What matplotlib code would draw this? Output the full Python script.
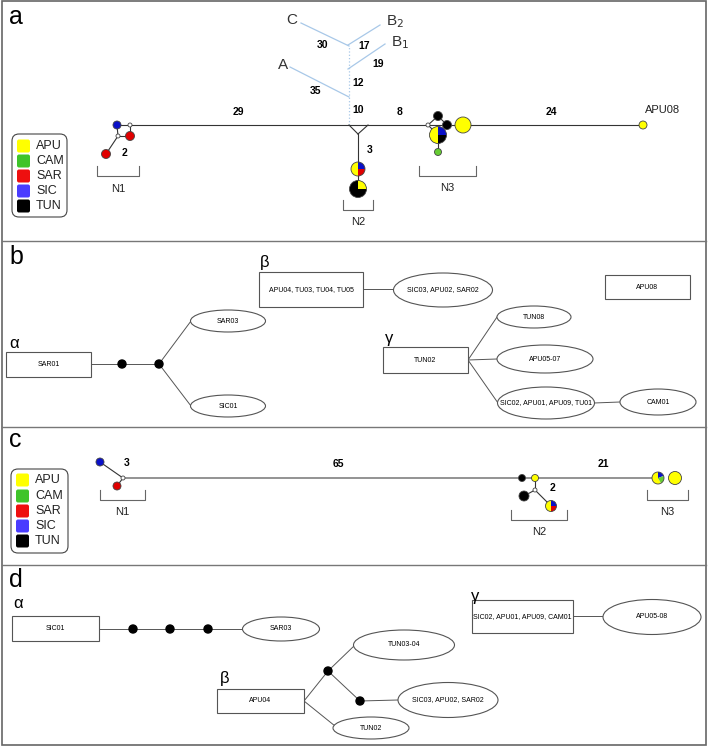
import matplotlib
matplotlib.use("Agg")
import matplotlib.pyplot as plt
from matplotlib.patches import Circle, Wedge, Ellipse, Rectangle, FancyBboxPatch

plt.rcParams['font.family'] = ['Liberation Sans', 'DejaVu Sans']

# Farben der Populationen
pop_names = ["APU", "CAM", "SAR", "SIC", "TUN"]
pop_colors = ["#ffff00", "#3fc42a", "#ee0f0f", "#4a3cff", "#000000"]
node_col = {"Y": "#ffff00", "G": "#66cc33", "R": "#e00000", "B": "#0a10c8", "K": "#000000", "W": "#ffffff"}

# ---------------- Panel a: Netzwerk ----------------
# Knoten: x, y, Radius, Farbe
a_nodes_x = [117, 130, 118, 130, 106, 438, 447, 463, 438, 643]
a_nodes_y = [125, 125, 136, 136, 154, 116, 125, 125, 152, 125]
a_nodes_r = [4, 2, 2, 4.5, 4.5, 4.5, 4.5, 8, 3.5, 4]
a_nodes_c = ["B", "W", "W", "R", "R", "K", "K", "Y", "G", "Y"]
# Kuchendiagramme: Mittelpunkt, Radius, Anteile (Winkel in Grad), Farben
a_pies = [
    (358, 169, 7, [(90, 270, "Y"), (0, 90, "B"), (270, 360, "R")]),
    (358, 189, 8.5, [(90, 360, "K"), (0, 90, "Y")]),
    (438, 135, 8.5, [(90, 270, "Y"), (0, 90, "B"), (270, 360, "K")]),
]
a_edges = [((130, 125), (643, 125)), ((117, 125), (130, 125)), ((130, 125), (130, 136)),
           ((118, 136), (130, 136)), ((117, 125), (118, 136)), ((118, 136), (106, 154)),
           ((358, 134), (358, 189)), ((349, 125), (358, 134)), ((368, 125), (358, 134)),
           ((428, 125), (438, 116)), ((438, 116), (447, 125)), ((428, 125), (438, 135)),
           ((438, 135), (438, 152))]
a_ref_lines = [((349, 125), (349, 46)), ((349, 46), (301, 23)), ((348, 45), (380, 25)),
               ((348, 69), (385, 44)), ((349, 97), (290, 67))]
a_ref_labels = [("C", 292, 20), ("A", 283, 65)]
a_steps = ["30", "17", "19", "12", "35", "10", "8", "29", "24", "3", "2"]
a_steps_x = [323, 364, 378, 358, 316, 358, 400, 238, 551, 370, 125]
a_steps_y = [45, 46, 64, 83, 91, 110, 112, 112, 112, 150, 153]

# ---------------- Panel b ----------------
b_boxes = [("APU04, TU03, TU04, TU05", 259, 272, 104, 35),
           ("APU08", 605, 275, 85, 24),
           ("SAR01", 6, 352, 85, 25),
           ("TUN02", 383, 347, 85, 26)]
b_ells = [("SIC03, APU02, SAR02", 443, 290, 99, 34),
          ("SAR03", 228, 321, 75, 22),
          ("SIC01", 228, 406, 75, 22),
          ("TUN08", 534, 317, 74, 22),
          ("APU05-07", 545, 359, 96, 28),
          ("SIC02, APU01, APU09, TU01", 546, 403, 97, 32),
          ("CAM01", 658, 402, 76, 26)]
b_dots_x = [122, 159]
b_dots_y = [364, 364]
b_lines = [((363, 289), (393, 289)), ((91, 364), (159, 364)), ((159, 364), (191, 321)),
           ((159, 364), (191, 406)), ((468, 360), (497, 317)), ((468, 360), (497, 359)),
           ((468, 360), (498, 403)), ((594, 403), (620, 402))]
b_greek = [("β", 265, 262), ("α", 14, 343), ("γ", 389, 338)]

# ---------------- Panel c ----------------
c_nodes_x = [100, 123, 117, 522, 535, 535, 524, 675]
c_nodes_y = [462, 478, 486, 478, 478, 490, 496, 478]
c_nodes_r = [4, 2, 4, 3.5, 3.5, 2, 5, 6.5]
c_nodes_c = ["B", "W", "R", "K", "Y", "W", "K", "Y"]
c_pies = [
    (551, 506, 5.5, [(90, 270, "Y"), (0, 90, "B"), (270, 360, "R")]),
    (658, 478, 6, [(90, 300, "Y"), (20, 90, "B"), (300, 380, "G")]),
]
c_edges = [((100, 462), (123, 478)), ((123, 478), (117, 486)), ((535, 478), (535, 490)),
           ((535, 490), (524, 496)), ((535, 490), (551, 506))]
c_main = ((123, 478), (658, 478))
c_steps = ["3", "65", "2", "21"]
c_steps_x = [127, 338, 553, 603]
c_steps_y = [463, 464, 488, 464]

# ---------------- Panel d ----------------
d_boxes = [("SIC01", 12, 616, 87, 25),
           ("APU04", 217, 689, 87, 24),
           ("SIC02, APU01, APU09, CAM01", 472, 600, 101, 33)]
d_ells = [("SAR03", 281, 629, 77, 24),
          ("TUN03-04", 404, 645, 101, 30),
          ("SIC03, APU02, SAR02", 448, 700, 100, 35),
          ("TUN02", 371, 728, 76, 22),
          ("APU05-08", 652, 617, 98, 35)]
d_dots_x = [133, 170, 208, 328, 360]
d_dots_y = [629, 629, 629, 671, 701]
d_lines = [((99, 629), (242, 629)), ((304, 701), (328, 671)), ((328, 671), (355, 645)),
           ((328, 671), (360, 701)), ((360, 701), (398, 700)), ((304, 701), (335, 726)),
           ((573, 616), (603, 616))]
d_greek = [("α", 18, 604), ("β", 225, 678), ("γ", 475, 596)]

fig = plt.figure(figsize=(7.09, 7.48), dpi=100)
ax = fig.add_axes([0, 0, 1, 1])
ax.set_xlim(0, 709)
ax.set_ylim(748, 0)
ax.axis("off")


def line(p, q, color="#333333", lw=0.8, ls="-", z=1):
    ax.plot([p[0], q[0]], [p[1], q[1]], color=color, lw=lw, ls=ls, zorder=z)


def node(x, y, r, c):
    ax.add_patch(Circle((x, y), r, facecolor=node_col[c], edgecolor="#444444", lw=0.6, zorder=3))


def pie(x, y, r, parts):
    for t1, t2, c in parts:
        # y-Achse ist umgedreht -> Winkel spiegeln
        ax.add_patch(Wedge((x, y), r, -t2, -t1, facecolor=node_col[c], edgecolor="none", zorder=3))
    ax.add_patch(Circle((x, y), r, facecolor="none", edgecolor="#444444", lw=0.6, zorder=4))


def box(txt, x, y, w, h):
    ax.add_patch(Rectangle((x, y), w, h, facecolor="white", edgecolor="#555555", lw=0.8, zorder=3))
    ax.text(x + w / 2, y + h / 2, txt, fontsize=5.0, ha="center", va="center", zorder=4)


def ell(txt, x, y, w, h):
    ax.add_patch(Ellipse((x, y), w, h, facecolor="white", edgecolor="#555555", lw=0.8, zorder=3))
    ax.text(x, y, txt, fontsize=5.0, ha="center", va="center", zorder=4)


def bracket(x1, x2, y1, y2, label, ly):
    ax.plot([x1, x1, x2, x2], [y1, y2, y2, y1], color="#666666", lw=0.8)
    ax.text((x1 + x2) / 2, ly, label, fontsize=8, ha="center", va="center", color="#222222")


def legend(x, y, w, h, ys):
    ax.add_patch(FancyBboxPatch((x, y), w, h, boxstyle="round,pad=0,rounding_size=7",
                                facecolor="white", edgecolor="#444444", lw=0.8, zorder=2))
    for yy, nm, col in zip(ys, pop_names, pop_colors):
        ax.add_patch(FancyBboxPatch((x + 5, yy - 6.5), 13, 13, boxstyle="round,pad=0,rounding_size=2",
                                    facecolor=col, edgecolor="none", zorder=3))
        ax.text(x + 24, yy, nm, fontsize=9, ha="left", va="center", color="#222222")


# Rahmen
ax.add_patch(Rectangle((2, 1), 704, 744, facecolor="none", edgecolor="#666666", lw=1.2))
for yy in [241, 427, 565]:
    line((2, yy), (706, yy), color="#777777", lw=1.0)
for lab, yy in zip(["a", "b", "c", "d"], [17, 257, 440, 580]):
    ax.text(9, yy, lab, fontsize=18, ha="left", va="center")

# Panel a
for p, q in a_ref_lines:
    line(p, q, color="#a8c8e8", lw=0.9, ls=":" if p[0] == q[0] else "-")
for p, q in a_edges:
    line(p, q)
for x, y, r, c in zip(a_nodes_x, a_nodes_y, a_nodes_r, a_nodes_c):
    node(x, y, r, c)
node(428, 125, 2, "W")
for x, y, r, parts in a_pies:
    pie(x, y, r, parts)
for t, x, y in a_ref_labels:
    ax.text(x, y, t, fontsize=11, ha="center", va="center", color="#333333")
ax.text(386, 22, "B$_2$", fontsize=11, ha="left", va="center", color="#333333")
ax.text(391, 43, "B$_1$", fontsize=11, ha="left", va="center", color="#333333")
for t, x, y in zip(a_steps, a_steps_x, a_steps_y):
    ax.text(x, y, t, fontsize=7.5, fontweight="bold", ha="center", va="center")
ax.text(663, 110, "APU08", fontsize=8, ha="center", va="center", color="#222222")
bracket(97, 139, 166, 176, "N1", 189)
bracket(343, 373, 200, 210, "N2", 222)
bracket(419, 476, 166, 176, "N3", 188)
legend(12, 134, 55, 83, [146, 161, 176, 191, 206])

# Panel b
for p, q in b_lines:
    line(p, q, color="#555555", lw=0.7)
for t, x, y, w, h in b_boxes:
    box(t, x, y, w, h)
for t, x, y, w, h in b_ells:
    ell(t, x, y, w, h)
for x, y in zip(b_dots_x, b_dots_y):
    ax.add_patch(Circle((x, y), 4, color="black", zorder=4))
for t, x, y in b_greek:
    ax.text(x, y, t, fontsize=12, ha="center", va="center")

# Panel c
line(c_main[0], c_main[1], color="#8a8a8a", lw=1.3)
for p, q in c_edges:
    line(p, q, color="#333333", lw=0.8)
for x, y, r, c in zip(c_nodes_x, c_nodes_y, c_nodes_r, c_nodes_c):
    node(x, y, r, c)
for x, y, r, parts in c_pies:
    pie(x, y, r, parts)
for t, x, y in zip(c_steps, c_steps_x, c_steps_y):
    ax.text(x, y, t, fontsize=7.5, fontweight="bold", ha="center", va="center")
bracket(100, 145, 490, 500, "N1", 512)
bracket(511, 567, 510, 520, "N2", 532)
bracket(647, 688, 490, 500, "N3", 512)
legend(11, 469, 57, 84, [480, 496, 511, 526, 541])

# Panel d
for p, q in d_lines:
    line(p, q, color="#555555", lw=0.7)
for t, x, y, w, h in d_boxes:
    box(t, x, y, w, h)
for t, x, y, w, h in d_ells:
    ell(t, x, y, w, h)
for x, y in zip(d_dots_x, d_dots_y):
    ax.add_patch(Circle((x, y), 4, color="black", zorder=4))
for t, x, y in d_greek:
    ax.text(x, y, t, fontsize=12, ha="center", va="center")

fig.savefig("out.png", dpi=100)
